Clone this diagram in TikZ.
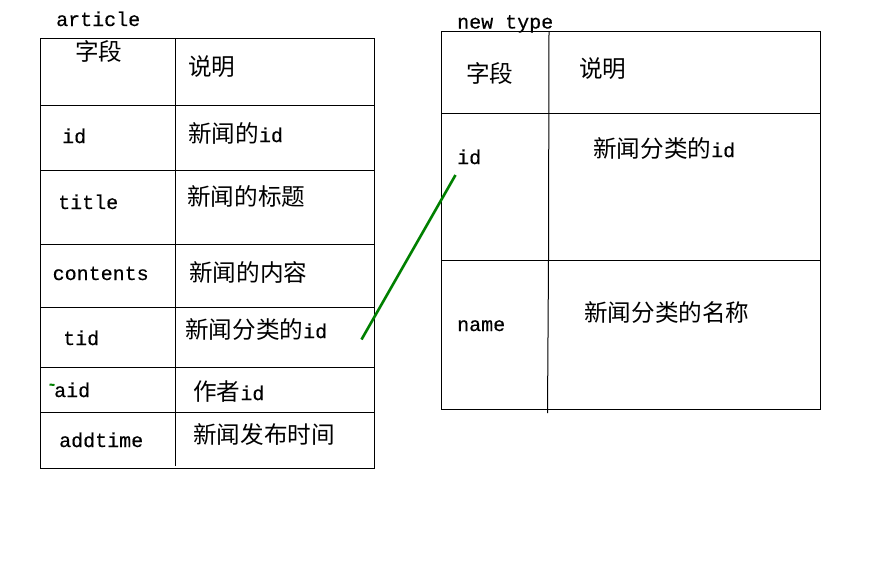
\documentclass[tikz,border=0pt]{standalone}
\usepackage{fontspec}
\newfontfamily\cjkfont{Noto Sans CJK SC}
\newfontfamily\monofont[RawFeature={embolden=0.4}]{Liberation Mono}
\newcommand\lt[1]{{\monofont\fontsize{20}{20}\selectfont #1}}
\definecolor{linkgreen}{RGB}{0,128,0}
\tikzset{
  grid/.style={draw=black, line width=1pt},
  lat/.style={font=\monofont\fontsize{20}{20}\selectfont, anchor=base west, inner sep=0pt},
  zh/.style={font=\cjkfont\fontsize{23.6}{23.6}\selectfont, anchor=base west, inner sep=0pt},
  link/.style={draw=linkgreen, line width=2.6pt}
}
\begin{document}
\begin{tikzpicture}[x=1pt,y=-1pt]
\useasboundingbox[fill=white] (0,0) rectangle (883,566);

% ---------- article table ----------
\draw[grid] (40.5,38) rectangle (374,468);
\draw[grid] (175.5,38) -- (175.5,466);
\foreach \yy in {105.5,170,244.5,307,367,412.5}
  \draw[grid] (40.5,\yy) -- (374,\yy);

\node[lat] (tArticle) at (56,26) {article};
\node[zh]  (aH1) at (75,60) {字段};
\node[zh]  (aH2) at (188,75) {说明};
\node[lat] (aF1) at (62,143) {id};
\node[zh]  (aD1) at (188,142) {新闻的\lt{id}};
\node[lat] (aF2) at (58,209) {title};
\node[zh]  (aD2) at (187,205) {新闻的标题};
\node[lat] (aF3) at (52.5,280) {contents};
\node[zh]  (aD3) at (189,281) {新闻的内容};
\node[lat] (aF4) at (63,345) {tid};
\node[zh]  (aD4) at (185,338) {新闻分类的\lt{id}};
\node[lat] (aF5) at (54,397) {aid};
\node[zh]  (aD5) at (193,400) {作者\lt{id}};
\node[lat] (aF6) at (59,447) {addtime};
\node[zh]  (aD6) at (193,443) {新闻发布时间};

% ---------- new type table ----------
\draw[grid] (441.5,31.5) rectangle (820.5,409);
\draw[grid] (549,31.5) -- (548.5,260) -- (547.5,413);
\foreach \yy in {113,260.5}
  \draw[grid] (441.5,\yy) -- (820.5,\yy);

\node[lat] (tType) at (457,28.5) {new type};
\node[zh]  (nH1) at (466,82) {字段};
\node[zh]  (nH2) at (579,77) {说明};
\node[lat] (nF1) at (457,164) {id};
\node[zh]  (nD1) at (593,157) {新闻分类的\lt{id}};
\node[lat] (nF2) at (457,331) {name};
\node[zh]  (nD2) at (584,321) {新闻分类的名称};

% ---------- green link ----------
\coordinate (linkA) at (361.5,339.5);
\coordinate (linkB) at (455.5,175);
\draw[link] (linkA) -- (linkB);
\coordinate (dashA) at (49.5,384.5);
\coordinate (dashB) at (54.5,385);
\draw[draw=linkgreen, line width=2pt] (dashA) -- (dashB);
\end{tikzpicture}
\end{document}
